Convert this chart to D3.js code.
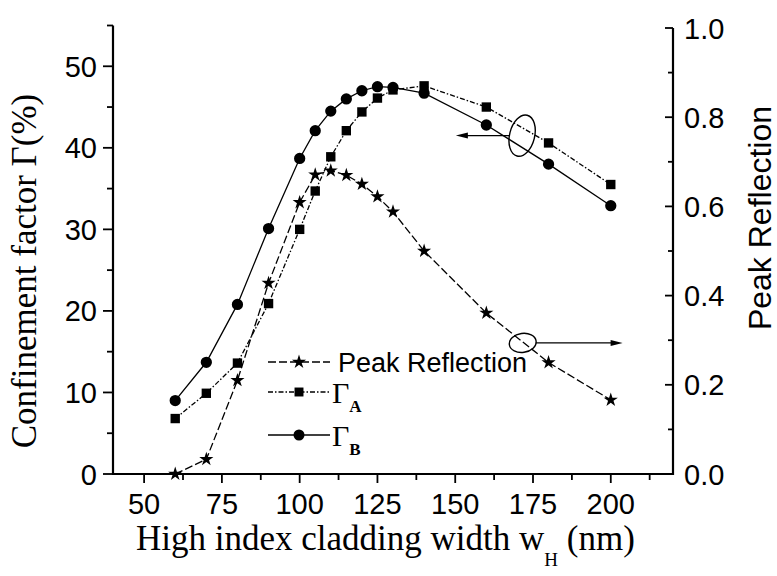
<!DOCTYPE html>
<html>
<head>
<meta charset="utf-8">
<script src="https://cdn.jsdelivr.net/npm/d3@7"></script>
<style>
  body { margin: 0; background: #fff; }
  svg { display: block; }
  .tick-label { font-family: "Liberation Sans", Arial, sans-serif; font-size: 29px; fill: #000; }
  .serif { font-family: "Liberation Serif", "Times New Roman", serif; fill: #000; }
</style>
</head>
<body>
<div id="chart"></div>
<script>
// data
var widths = [60, 70, 80, 90, 100, 105, 110, 115, 120, 125, 130, 140, 160, 180, 200];
var gammaA = [6.8, 9.9, 13.6, 20.9, 30.0, 34.7, 38.9, 42.1, 44.4, 46.1, 47.1, 47.6, 45.0, 40.6, 35.5];
var gammaB = [9.0, 13.7, 20.8, 30.1, 38.7, 42.1, 44.5, 46.0, 47.0, 47.5, 47.4, 46.7, 42.8, 38.0, 32.9];
var peakRefl = [0.0, 0.033, 0.21, 0.428, 0.609, 0.671, 0.68, 0.67, 0.65, 0.622, 0.588, 0.50, 0.361, 0.25, 0.166];

var xTicks = [50, 75, 100, 125, 150, 175, 200];
var leftTicks = [0, 10, 20, 30, 40, 50];
var rightTicks = [0, 0.2, 0.4, 0.6, 0.8, 1.0];

var W = 777, H = 576;
var svg = d3.select("#chart").append("svg").attr("width", W).attr("height", H);

var x = d3.scaleLinear().domain([40, 220]).range([113, 673]);
var yL = d3.scaleLinear().domain([0, 55]).range([474, 25.5]);
var yR = d3.scaleLinear().domain([0, 1]).range([474, 28]);

// x axis, ticks pointing down
var xAxis = svg.append("g").attr("transform", "translate(0,474)");
xAxis.append("line").attr("x1", x(40) - 1).attr("x2", x(220) + 1).attr("stroke", "#000").attr("stroke-width", 2.2);
xAxis.selectAll(".minor").data(d3.range(62.5, 220, 25)).enter().append("line")
  .attr("x1", function(d) { return x(d); }).attr("x2", function(d) { return x(d); })
  .attr("y1", 0).attr("y2", 6).attr("stroke", "#000").attr("stroke-width", 1.8);
xAxis.selectAll(".major").data(xTicks).enter().append("line")
  .attr("x1", function(d) { return x(d); }).attr("x2", function(d) { return x(d); })
  .attr("y1", 0).attr("y2", 9).attr("stroke", "#000").attr("stroke-width", 1.8);
xAxis.selectAll("text").data(xTicks).enter().append("text")
  .attr("class", "tick-label").attr("x", function(d) { return x(d); }).attr("y", 40)
  .attr("text-anchor", "middle").text(function(d) { return d; });

// left axis, ticks pointing out
var lAxis = svg.append("g").attr("transform", "translate(" + x(40) + ",0)");
lAxis.append("line").attr("y1", yL(0) + 1).attr("y2", yL(55)).attr("stroke", "#000").attr("stroke-width", 2.2);
lAxis.selectAll(".minor").data(d3.range(5, 56, 10)).enter().append("line")
  .attr("y1", function(d) { return yL(d); }).attr("y2", function(d) { return yL(d); })
  .attr("x1", 0).attr("x2", -6).attr("stroke", "#000").attr("stroke-width", 1.8);
lAxis.selectAll(".major").data(leftTicks).enter().append("line")
  .attr("y1", function(d) { return yL(d); }).attr("y2", function(d) { return yL(d); })
  .attr("x1", 0).attr("x2", -10).attr("stroke", "#000").attr("stroke-width", 1.8);
lAxis.selectAll("text").data(leftTicks).enter().append("text")
  .attr("class", "tick-label").attr("x", -16).attr("y", function(d) { return yL(d) + 10.5; })
  .attr("text-anchor", "end").text(function(d) { return d; });

// right axis, ticks pointing in
var rAxis = svg.append("g").attr("transform", "translate(" + x(220) + ",0)");
rAxis.append("line").attr("y1", yR(0) + 1).attr("y2", yR(1)).attr("stroke", "#000").attr("stroke-width", 2.2);
rAxis.selectAll(".minor").data([0.1, 0.3, 0.5, 0.7, 0.9]).enter().append("line")
  .attr("y1", function(d) { return yR(d); }).attr("y2", function(d) { return yR(d); })
  .attr("x1", 0).attr("x2", -5).attr("stroke", "#000").attr("stroke-width", 1.8);
rAxis.selectAll(".major").data(rightTicks).enter().append("line")
  .attr("y1", function(d) { return yR(d); }).attr("y2", function(d) { return yR(d); })
  .attr("x1", 0).attr("x2", -8).attr("stroke", "#000").attr("stroke-width", 1.8);
rAxis.selectAll("text").data(rightTicks).enter().append("text")
  .attr("class", "tick-label").attr("x", 11).attr("y", function(d) { return yR(d) + 10.5; })
  .text(function(d) { return d.toFixed(1); });

// axis titles
svg.append("text").attr("class", "serif").attr("font-size", 35)
  .attr("transform", "translate(36,271) rotate(-90)").attr("text-anchor", "middle")
  .text("Confinement factor \u0393(%)");

var xt = svg.append("text").attr("class", "serif").attr("font-size", 35)
  .attr("x", 136).attr("y", 550);
xt.append("tspan").text("High index cladding width w");
xt.append("tspan").attr("font-size", 19).attr("dy", 16).text("H");
xt.append("tspan").attr("dy", -16).text(" (nm)");

svg.append("text").attr("font-family", "Liberation Sans, Arial, sans-serif").attr("font-size", 32)
  .attr("transform", "translate(771,218) rotate(-90)").attr("text-anchor", "middle")
  .text("Peak Reflection");

// series
var series = [
  { vals: gammaB, y: yL, dash: null, sym: d3.symbolCircle, size: 100 },
  { vals: gammaA, y: yL, dash: "5,2,1.5,2", sym: d3.symbolSquare, size: 88 },
  { vals: peakRefl, y: yR, dash: "8,3", sym: d3.symbolStar, size: 62 }
];

series.forEach(function(s) {
  var line = d3.line()
    .x(function(d, i) { return x(widths[i]); })
    .y(function(d) { return s.y(d); });
  svg.append("path").datum(s.vals).attr("d", line)
    .attr("fill", "none").attr("stroke", "#000").attr("stroke-width", 1.3)
    .attr("stroke-dasharray", s.dash);
  svg.selectAll(null).data(s.vals).enter().append("path")
    .attr("d", d3.symbol().type(s.sym).size(s.size))
    .attr("transform", function(d, i) { return "translate(" + x(widths[i]) + "," + s.y(d) + ")"; })
    .attr("fill", "#000");
});

// legend
var legend = [
  { label: "Peak Reflection", sub: null, dash: "8,3", sym: d3.symbolStar, size: 62, y: 362 },
  { label: "\u0393", sub: "A", dash: "5,2,1.5,2", sym: d3.symbolSquare, size: 80, y: 392 },
  { label: "\u0393", sub: "B", dash: null, sym: d3.symbolCircle, size: 95, y: 435 }
];
legend.forEach(function(l) {
  var g = svg.append("g").attr("transform", "translate(0," + l.y + ")");
  g.append("line").attr("x1", 268).attr("x2", 330).attr("stroke", "#000").attr("stroke-width", 1.3)
    .attr("stroke-dasharray", l.dash);
  g.append("path").attr("d", d3.symbol().type(l.sym).size(l.size)).attr("transform", "translate(299,0)");
  if (l.sub) {
    var t = g.append("text").attr("class", "serif").attr("font-size", 30).attr("x", 332).attr("y", 11);
    t.append("tspan").text(l.label);
    t.append("tspan").attr("font-size", 17).attr("font-weight", "bold").attr("dy", 9).text(l.sub);
  } else {
    g.append("text").attr("font-family", "Liberation Sans, Arial, sans-serif").attr("font-size", 27)
      .attr("x", 338).attr("y", 10).text(l.label);
  }
});

// annotations: ellipses with arrows pointing to their axes
function arrow(x1, x2, yy) {
  var dir = x2 > x1 ? 1 : -1;
  svg.append("line").attr("x1", x1).attr("x2", x2 - dir * 8).attr("y1", yy).attr("y2", yy)
    .attr("stroke", "#000").attr("stroke-width", 1.3);
  svg.append("path")
    .attr("d", "M" + x2 + "," + yy + "L" + (x2 - dir * 12) + "," + (yy - 3) + "L" + (x2 - dir * 12) + "," + (yy + 3) + "Z")
    .attr("fill", "#000");
}
var e1x = x(171.5), e1y = yL(41.5);
svg.append("ellipse").attr("cx", 0).attr("cy", 0).attr("rx", 12.5).attr("ry", 21)
  .attr("transform", "translate(" + e1x + "," + e1y + ") rotate(14)")
  .attr("fill", "none").attr("stroke", "#000").attr("stroke-width", 1.4);
arrow(e1x - 13, x(150.2), e1y);

var e2x = x(171.7), e2y = yR(0.294);
svg.append("ellipse").attr("cx", 0).attr("cy", 0).attr("rx", 13.5).attr("ry", 9.5)
  .attr("transform", "translate(" + e2x + "," + e2y + ") rotate(-8)")
  .attr("fill", "none").attr("stroke", "#000").attr("stroke-width", 1.4);
arrow(e2x + 13, x(203.8), e2y);
</script>
</body>
</html>
